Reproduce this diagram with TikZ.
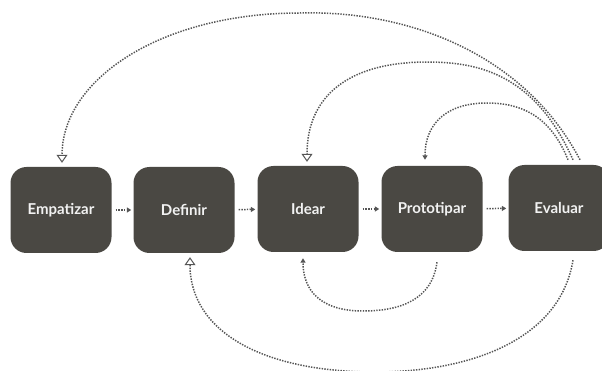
\documentclass[tikz,border=0pt]{standalone}
\usepackage{fontspec}
\setmainfont{Lato}
\usepackage{xcolor}
\usetikzlibrary{arrows.meta}

\definecolor{boxgray}{HTML}{4A4843}
\definecolor{dotgray}{HTML}{555555}

\tikzset{
  phase/.style={fill=boxgray, rounded corners=16pt, minimum width=101pt,
    minimum height=86pt, inner sep=0pt, text=white!95!black,
    font=\fontsize{15}{17}\selectfont\bfseries},
  dots/.style={draw=dotgray, line width=1.5pt, dash pattern=on 1.4pt off 1.3pt},
  flow/.style={dots, -{Triangle[length=4.5pt,width=5pt]}, shorten <=4pt, shorten >=2pt},
  back/.style={dots, -{Triangle[open,length=8pt,width=11pt,line width=1pt]}},
  loop/.style={dots, -{Triangle[length=4.5pt,width=5pt]}}
}

\begin{document}
\begin{tikzpicture}[x=1pt,y=-1pt]
  \useasboundingbox (0,0) rectangle (602,371);
  \node (emp) [phase] at (61,210) {Empatizar};
  \node (def) [phase] at (184,210) {Definir};
  \node (ide) [phase] at (308,209) {Idear};
  \node (pro) [phase] at (432,209) {Prototipar};
  \node (eva) [phase] at (559,208) {Evaluar};

  \draw[flow] (emp) -- (def);
  \draw[flow] (def) -- (ide);
  \draw[flow] (ide) -- (pro);
  \draw[flow] (pro) -- (eva);

  \path (node cs:name=eva,anchor=north) +(21,-5) coordinate (evt1) {};
  \path (node cs:name=eva,anchor=north) +(14,-5) coordinate (evt2) {};
  \path (node cs:name=eva,anchor=north) +(9,-5) coordinate (evt3) {};
  \path (node cs:name=emp,anchor=north) +(1,-4) coordinate (empi) {};
  \path (node cs:name=ide,anchor=north) +(-1,-4) coordinate (idei) {};
  \path (node cs:name=pro,anchor=north) +(-7,-6) coordinate (proi) {};
  \draw[back] (evt1) .. controls (525,55) and (410,10) .. (300,13)
    .. controls (160,13) and (62,80) .. (empi);
  \draw[back] (evt2) .. controls (535,75) and (480,62) .. (427,62)
    .. controls (350,62) and (307,95) .. (idei);
  \draw[loop] (evt3) .. controls (550,115) and (520,103) .. (487,103)
    .. controls (445,103) and (425,125) .. (proi);

  \path (node cs:name=pro,anchor=south) +(5,10) coordinate (prob) {};
  \path (node cs:name=ide,anchor=south) +(-5,6) coordinate (ideb) {};
  \path (node cs:name=eva,anchor=south) +(14,9) coordinate (evab) {};
  \path (node cs:name=def,anchor=south) +(6,4) coordinate (defb) {};
  \draw[loop] (prob) .. controls (432,300) and (400,311) .. (363,311)
    .. controls (320,311) and (303,290) .. (ideb);
  \draw[back] (evab) .. controls (560,340) and (470,372) .. (375,372)
    .. controls (260,372) and (190,330) .. (defb);
\end{tikzpicture}
\end{document}
